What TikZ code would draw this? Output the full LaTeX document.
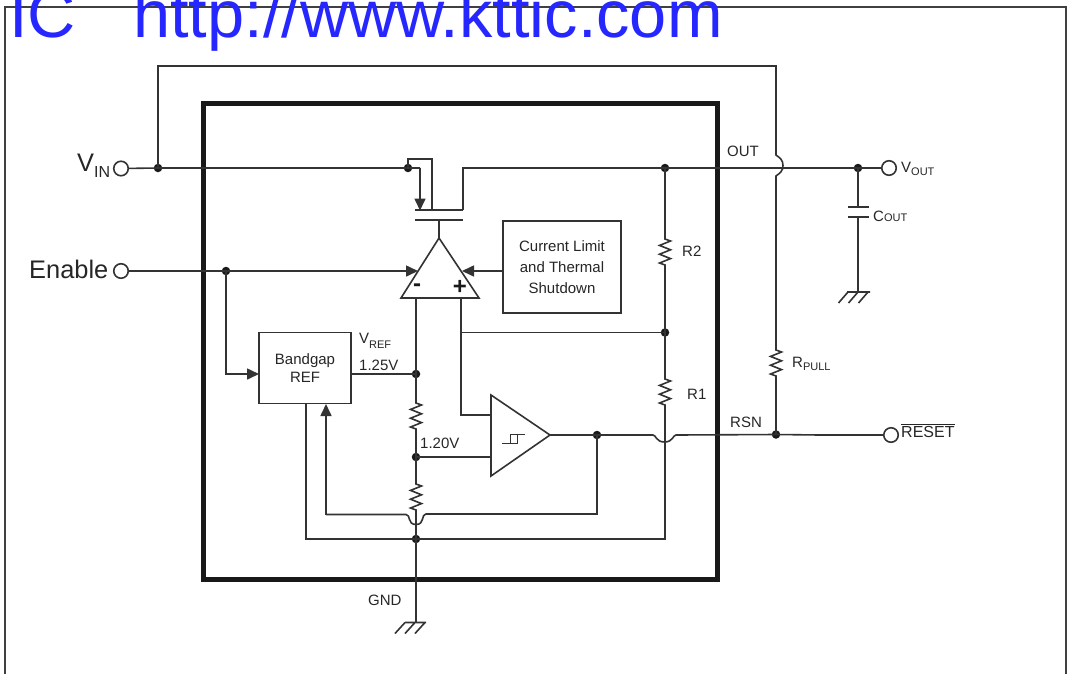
\documentclass[tikz,border=0pt]{standalone}
\usepackage{fontspec}
\setmainfont{Liberation Sans}
\usetikzlibrary{arrows.meta}
\newcommand{\zigv}{-- ++(5.5,2) -- ++(-11,4.4) -- ++(11,4.4) -- ++(-11,4.4) -- ++(11,4.4) -- ++(-11,4.4) -- ++(5.5,2)}
\newcommand{\fsz}[1]{\fontsize{#1}{#1}\selectfont}
\tikzset{
  wire/.style={draw=black!80,line width=1.6pt,line join=miter},
  arrowed/.style={wire,-{Triangle[length=12pt,width=11pt]}},
  thick wire/.style={wire,line width=2pt},
  dot/.style={circle,fill=black!90,inner sep=0pt,minimum size=8.5pt},
  term/.style={circle,draw=black!80,line width=1.6pt,fill=white,inner sep=0pt,minimum size=14.5pt},
  blockbox/.style={draw=black!80,line width=1.6pt,fill=white,align=center,inner sep=0pt,font=\fsz{15},text=black!85},
  lab/.style={inner sep=0pt,text=black!85,font=\fsz{15},anchor=base west},
  biglab/.style={inner sep=0pt,text=black!85,font=\fsz{25.4},anchor=base west},
  amp/.style={draw=black!80,line width=1.6pt,line join=miter,fill=white},
}
\begin{document}
\begin{tikzpicture}[x=1pt,y=-1pt]
\useasboundingbox (0,0) rectangle (1067,673);
\clip (0,0) rectangle (1067,673);
% outer frame
\draw[black!75,line width=2pt] (4.5,680) -- (4.5,6.5) -- (1066,6.5) -- (1066,680);
% chip outline
\node[draw=black!90,line width=5pt,minimum width=514pt,minimum height=476pt,inner sep=0pt] (chip) at (460,341) {};
% named coordinates
\coordinate (bypassL) at (158,66);
\coordinate (bypassR) at (776,66);
\coordinate (jumpTop) at (776,155);
\coordinate (jumpBot) at (776,176);
\coordinate (rpTop) at (776,350);
\coordinate (srcTurn) at (420,168);
\coordinate (bodyA) at (408,159);
\coordinate (bodyB) at (432,159);
\coordinate (bodyC) at (432,210);
\coordinate (srcTip) at (420,210.5);
\coordinate (barL) at (415,210);
\coordinate (barR) at (463,210);
\coordinate (drainTop) at (463,168);
\coordinate (gateL) at (415,220);
\coordinate (gateR) at (463,220);
\coordinate (gateM) at (439,220);
\coordinate (apex) at (439,238);
\coordinate (baseL) at (401,298);
\coordinate (baseR) at (479,298);
\coordinate (minusIn) at (416,298);
\coordinate (plusIn) at (461,298);
\coordinate (enTip) at (418,271);
\coordinate (clTip) at (462,271);
\coordinate (plusTurn) at (461,415);
\coordinate (cmpIn1) at (491,415);
\coordinate (cmpIn2) at (491,457);
\coordinate (cmpOut) at (550,435);
\coordinate (r2Top) at (665,239);
\coordinate (r1Top) at (665,379);
\coordinate (ru1Top) at (416,403);
\coordinate (ru1Bot) at (416,429);
\coordinate (ru2Top) at (416,484);
\coordinate (ru2Bot) at (416,510);
\coordinate (fbCorner) at (597,514);
\coordinate (fbLeft) at (326,514.5);
\coordinate (fbTip) at (326,404);
\coordinate (gbTop) at (306,404);
\coordinate (gbCorner) at (306,539);
\coordinate (gbRight) at (665,539);
\coordinate (gndEnd) at (416,622.5);
\coordinate (gndOutEnd) at (858,292);
\coordinate (capTop) at (858,207);
\coordinate (capBot) at (858,217);
\coordinate (bgIn) at (259,374);
\coordinate (bgOut) at (351,374);
% terminals
\node[term] (vin) at (121,168.5) {};
\node[term] (en) at (121,271) {};
\node[term] (vout) at (889,168) {};
\node[term] (rst) at (891,435) {};
% blocks
\node[blockbox,minimum width=118pt,minimum height=92pt] (cl) at (562,267) {Current Limit\\[6pt]and Thermal\\[6pt]Shutdown};
\node[blockbox,minimum width=92pt,minimum height=71pt] (bg) at (305,368) {Bandgap\\[3pt]REF};
% junction dots
\node[dot] (jVin) at (158,168) {};
\node[dot] (jSrc) at (408,168) {};
\node[dot] (jOut) at (665,168) {};
\node[dot] (jCap) at (858,168) {};
\node[dot] (jEn) at (226,271) {};
\node[dot] (jFb) at (665,332.5) {};
\node[dot] (jRef) at (416,374) {};
\node[dot] (j120) at (416,457) {};
\node[dot] (jGnd) at (416,539) {};
\node[dot] (jCmp) at (597,435) {};
\node[dot] (jRsn) at (776,434.5) {};
% wires
\draw[wire] (jVin.center) -- (bypassL) -- (bypassR) -- (jumpTop)
  .. controls (780,158) and (783,160) .. (783,165.5) .. controls (783,171) and (780,173) .. (jumpBot)
  -- (rpTop) \zigv -- (jRsn.center);
\draw[wire] (vin) -- (jVin.center) -- (jSrc.center) -- (srcTurn);
\draw[arrowed] (srcTurn) -- (srcTip);
\draw[wire] (jSrc.center) -- (bodyA) -- (bodyB) -- (bodyC);
\draw[thick wire] (barL) -- (barR);
\draw[wire] (barR) -- (drainTop) -- (jOut.center) -- (jCap.center) -- (vout);
\draw[thick wire] (gateL) -- (gateR);
\draw[wire] (gateM) -- (apex);
\draw[amp] (apex) -- (baseR) -- (baseL) -- cycle;
\draw[arrowed] (en) -- (jEn.center) -- (enTip);
\draw[arrowed] (cl.west |- clTip) -- (clTip);
\draw[arrowed] (jEn.center) |- (bgIn);
\draw[wire] (minusIn) -- (jRef.center) -- (ru1Top) \zigv -- (ru1Bot) -- (j120.center) -- (ru2Top) \zigv -- (ru2Bot) -- (jGnd.center) -- (gndEnd);
\draw[wire] (bgOut) -- (jRef.center);
\draw[wire] (jOut.center) -- (r2Top) \zigv -- (jFb.center) -- (r1Top) \zigv -- (gbRight) -- (gbCorner) -- (gbTop);
\draw[wire] (plusIn) -- (plusTurn) -- (cmpIn1);
\draw[wire] (jFb.center) -- (plusIn |- jFb);
\draw[wire] (j120.center) -- (cmpIn2);
\draw[amp] (491,395) -- (cmpOut) -- (491,476) -- cycle;
\draw[wire,line width=1pt] (502,443) -- (517,443) -- (517,434);
\draw[wire,line width=1pt] (510,443) -- (510,434) -- (525,434);
\draw[wire] (cmpOut) -- (jCmp.center) -- (653,435)
  .. controls (656,435) and (656,442) .. (664.5,442) .. controls (673,442) and (673,435) .. (676,435)
  -- (jRsn.center);
\draw[wire] (jRsn.center) -- (820,435);
\draw[thick wire] (820,435) -- (rst);
\draw[wire] (jCmp.center) -- (fbCorner) -- (426,514)
  .. controls (421,514) and (425,524.5) .. (416,524.5) .. controls (407,524.5) and (411,514.5) .. (406,514.5)
  -- (fbLeft);
\draw[arrowed] (fbLeft) -- (fbTip);
% capacitor and grounds
\draw[wire] (jCap.center) -- (capTop);
\draw[thick wire] (848,207) -- (869,207);
\draw[thick wire] (848,217) -- (869,217);
\draw[wire] (capBot) -- (gndOutEnd);
\draw[wire] (847,292) -- (870,292) (848,292) -- (838.5,303) (858,292) -- (848.5,303) (868,292) -- (858.5,303);
\draw[wire] (405,622.5) -- (426,622.5) (405,622.5) -- (395,633.5) (415,622.5) -- (405,633.5) (425,622.5) -- (415,633.5);
% amp signs
\node[inner sep=0pt,font=\bfseries\fsz{24},text=black!90] (mn) at (417,288) {-};
\node[inner sep=0pt,font=\bfseries\fsz{24},text=black!90] (pl) at (460,287) {+};
% labels
\node[lab,font=\fsz{66.7},text=blue!85] (url) at (9,37.5) {IC};
\node[lab,font=\fsz{66.7},text=blue!85] (url2) at (133,37.5) {http://www.kttic.com};
\node[biglab] (lvin) at (77,171) {V\raisebox{-6pt}{\fsz{16}IN}};
\node[biglab] (len) at (29,278) {Enable};
\node[lab] (lout) at (727,156) {OUT};
\node[lab] (lvout) at (901,172) {V\raisebox{-3.5pt}{\fsz{11}OUT}};
\node[lab] (lcout) at (873,221) {C\fsz{11}OUT};
\node[lab] (lr2) at (682,256) {R2};
\node[lab] (lr1) at (687,399) {R1};
\node[lab] (lrp) at (792,367) {R\raisebox{-3.5pt}{\fsz{11}PULL}};
\node[lab] (lrsn) at (730,427) {RSN};
\node[lab] (lrst) at (901,437) {$\overline{\mbox{\fsz{16}RESET}}$};
\node[lab] (lvref) at (359,343) {V\raisebox{-5pt}{\fsz{11}REF}};
\node[lab] (l125) at (359,370) {1.25V};
\node[lab] (l120) at (420,448) {1.20V};
\node[lab] (lgnd) at (368,605) {GND};
\end{tikzpicture}
\end{document}
